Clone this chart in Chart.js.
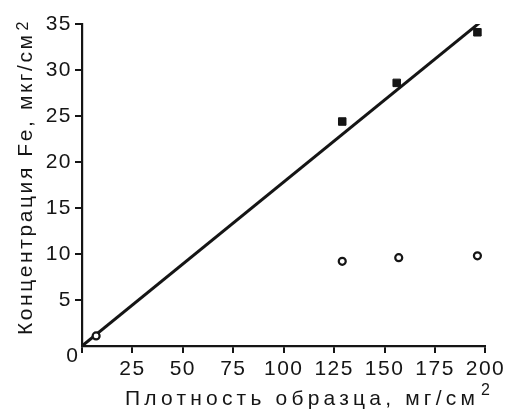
<!DOCTYPE html>
<html>
<head>
<meta charset="utf-8">
<script src="https://cdn.jsdelivr.net/npm/chart.js@4"></script>
<style>
  html, body { margin: 0; padding: 0; background: #fff; }
  #wrap { width: 507px; height: 411px; }
</style>
</head>
<body>
<div id="wrap"><canvas id="chart" width="507" height="411"></canvas></div>
<script>
// data
const squareX = [129, 156, 196];
const squareY = [24.4, 28.6, 34.1];
const circleX = [7, 129, 157, 196];
const circleY = [1.1, 9.2, 9.6, 9.8];
const lineX = [0, 198];
const lineY = [0, 35.3];

const xTicks = [0, 25, 50, 75, 100, 125, 150, 175, 200];
const yTicks = [0, 5, 10, 15, 20, 25, 30, 35];

const xTitle = "Плотность образца, мг/см";
const yTitle = "Концентрация Fe, мкг/см";
const titleSup = "2";

const FONT = "'Liberation Sans', Arial, sans-serif";
const INK = "#151515";

function toPoints(xs, ys) {
  return xs.map((x, i) => ({ x: x, y: ys[i] }));
}

// tick labels a bit spaced out, like the original
const spacingPlugin = {
  id: "spacing",
  beforeDraw(chart) {
    chart.ctx.letterSpacing = "1.5px";
  }
};

// axis titles with a superscript 2, and the shared "0" in the corner
const titlesPlugin = {
  id: "titles",
  afterDraw(chart) {
    const ctx = chart.ctx;
    const xs = chart.scales.x;
    const ys = chart.scales.y;
    ctx.save();
    ctx.fillStyle = INK;

    // corner zero
    ctx.letterSpacing = "0px";
    ctx.font = "21px " + FONT;
    ctx.textAlign = "center";
    ctx.textBaseline = "middle";
    ctx.fillText("0", xs.getPixelForValue(0) - 10, ys.getPixelForValue(0) + 10);

    // x title
    ctx.textAlign = "left";
    ctx.textBaseline = "alphabetic";
    ctx.letterSpacing = "4.2px";
    ctx.font = "21px " + FONT;
    ctx.fillText(xTitle, 125, 405);
    const wx = ctx.measureText(xTitle).width;
    ctx.letterSpacing = "0px";
    ctx.font = "16px " + FONT;
    ctx.fillText(titleSup, 125 + wx + 2, 395);

    // y title, rotated
    ctx.translate(32, 335);
    ctx.rotate(-Math.PI / 2);
    ctx.letterSpacing = "2.6px";
    ctx.font = "21px " + FONT;
    ctx.fillText(yTitle, 0, 0);
    const wy = ctx.measureText(yTitle).width;
    ctx.letterSpacing = "0px";
    ctx.font = "16px " + FONT;
    ctx.fillText(titleSup, wy + 2, -4);
    ctx.restore();
  }
};

const tickStyle = {
  color: INK,
  font: { family: FONT, size: 21 },
  callback: (v) => (v === 0 ? "" : v)
};

const ctx = document.getElementById("chart").getContext("2d");
new Chart(ctx, {
  type: "scatter",
  data: {
    datasets: [
      {
        label: "Fe",
        data: toPoints(squareX, squareY),
        pointStyle: "rect",
        pointRadius: 5.3,
        backgroundColor: INK,
        borderColor: INK,
        borderWidth: 1,
        order: 1
      },
      {
        label: "Fe open",
        data: toPoints(circleX, circleY),
        pointStyle: "circle",
        pointRadius: 3.5,
        backgroundColor: "#fff",
        borderColor: INK,
        borderWidth: 2.2,
        order: 2
      },
      {
        label: "fit",
        data: toPoints(lineX, lineY),
        showLine: true,
        pointRadius: 0,
        borderColor: INK,
        borderWidth: 3,
        order: 3
      }
    ]
  },
  options: {
    responsive: false,
    animation: false,
    layout: { padding: { left: 0, top: 24, right: 21, bottom: 0 } },
    plugins: {
      legend: { display: false },
      tooltip: { enabled: false }
    },
    scales: {
      x: {
        type: "linear",
        min: 0,
        max: 200,
        afterBuildTicks: (s) => { s.ticks = xTicks.map(v => ({ value: v })); },
        afterFit: (s) => { s.height = 65; },
        border: { display: true, color: INK, width: 2.2 },
        grid: { drawOnChartArea: false, drawTicks: true, tickLength: 7, color: INK, lineWidth: 2 },
        ticks: Object.assign({ padding: 4, maxRotation: 0, autoSkip: false }, tickStyle)
      },
      y: {
        type: "linear",
        min: 0,
        max: 35,
        afterBuildTicks: (s) => { s.ticks = yTicks.map(v => ({ value: v })); },
        afterFit: (s) => { s.width = 82; },
        border: { display: true, color: INK, width: 2.2 },
        grid: {
          drawOnChartArea: false,
          drawTicks: true,
          tickLength: 7,
          lineWidth: 2,
          color: (c) => (c.tick && c.tick.value === 0 ? "rgba(0,0,0,0)" : INK)
        },
        ticks: Object.assign({ padding: 3, autoSkip: false }, tickStyle)
      }
    }
  },
  plugins: [spacingPlugin, titlesPlugin]
});
</script>
</body>
</html>
